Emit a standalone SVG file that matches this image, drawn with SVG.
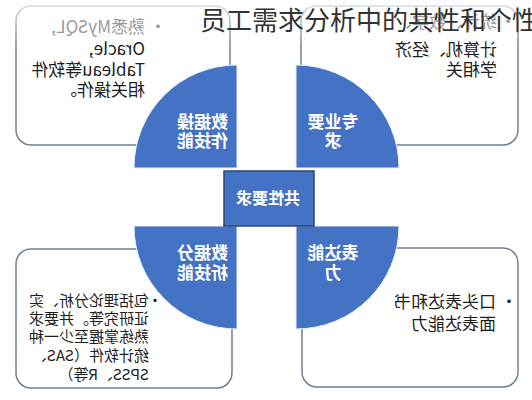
<svg xmlns="http://www.w3.org/2000/svg" width="532" height="400" viewBox="0 0 532 400">
<defs>
<linearGradient id="topfade" x1="0" y1="0" x2="0" y2="1">
<stop offset="0" stop-color="#d5dce4"/>
<stop offset="0.3" stop-color="#6f8096"/>
<stop offset="1" stop-color="#6f8096"/>
</linearGradient>
</defs>
<style>
.box{fill:#ffffff;stroke:#6f8096;stroke-width:1.5}
.boxtop{fill:#ffffff;stroke:url(#topfade);stroke-width:1.5}
.quad{fill:#4472c4;stroke:#e8eef8;stroke-width:1}
.core{fill:#4472c4;stroke:#2b4770;stroke-width:1.5}
.qt{font-family:"Noto Sans CJK SC","Liberation Sans",sans-serif;font-size:17px;font-weight:bold;fill:#ffffff;text-anchor:middle}
.ct{font-family:"Noto Sans CJK SC","Liberation Sans",sans-serif;font-size:16px;font-weight:bold;fill:#ffffff;text-anchor:middle}
.bt{font-family:"Noto Sans CJK SC","Liberation Sans",sans-serif;font-size:17px;fill:#1e1e1e}
.bs{font-family:"Noto Sans CJK SC","Liberation Sans",sans-serif;font-size:15px;fill:#1e1e1e}
.fade{fill:#9a9a9a}
.title{font-family:"Noto Sans CJK SC","Liberation Sans",sans-serif;font-size:26px;fill:#333333}
</style>
<rect width="532" height="400" fill="#ffffff"/>
<g id="box-data-ops">
<rect class="boxtop" x="16" y="6" width="214" height="139" rx="15"/>
<g transform="translate(532,0) scale(-1,1)">
<text class="bt fade" x="374" y="33" text-anchor="middle">•</text>
<text class="bt fade" x="387" y="33">熟悉MySQL,</text>
<text class="bt" x="387" y="55">Oracle,</text>
<text class="bt" x="387" y="76">Tableau等软件</text>
<text class="bt" x="387" y="96">相关操作。</text>
</g>
</g>
<g id="box-professional">
<rect class="boxtop" x="301" y="6" width="217" height="139" rx="15"/>
<g transform="translate(532,0) scale(-1,1)">
<text class="bt fade" x="24" y="28" text-anchor="middle">•</text>
<text class="bt fade" x="35" y="28">统计、数学、</text>
<text class="bt" x="35" y="56">计算机、经济</text>
<text class="bt" x="35" y="76">学相关</text>
</g>
</g>
<g id="box-data-analysis">
<rect class="box" x="16" y="249" width="216" height="139" rx="15"/>
<g transform="translate(532,0) scale(-1,1)">
<text class="bs" x="377" y="306" text-anchor="middle">•</text>
<text class="bs" x="383" y="306">包括理论分析、实</text>
<text class="bs" x="383" y="324">证研究等。并要求</text>
<text class="bs" x="383" y="342">熟练掌握至少一种</text>
<text class="bs" x="383" y="361">统计软件（SAS、</text>
<text class="bs" x="383" y="380">SPSS、R等）</text>
</g>
</g>
<g id="box-expression">
<rect class="box" x="302" y="248" width="216" height="139" rx="15"/>
<g transform="translate(532,0) scale(-1,1)">
<text class="bt" x="23" y="308" text-anchor="middle">•</text>
<text class="bt" x="36" y="308">口头表达和书</text>
<text class="bt" x="36" y="330">面表达能力</text>
</g>
</g>
<g id="quad-data-ops">
<path class="quad" d="M237,168 L134,168 A103,103 0 0 1 237,65 Z"/>
<g transform="translate(532,0) scale(-1,1)">
<text class="qt" x="329.5" y="128">数据操</text>
<text class="qt" x="329.5" y="147">作技能</text>
</g>
</g>
<g id="quad-professional">
<path class="quad" d="M296,168 L296,65 A103,103 0 0 1 399,168 Z"/>
<g transform="translate(532,0) scale(-1,1)">
<text class="qt" x="199" y="128">专业要</text>
<text class="qt" x="199" y="147">求</text>
</g>
</g>
<g id="quad-data-analysis">
<path class="quad" d="M237,226 L237,329 A103,103 0 0 1 134,226 Z"/>
<g transform="translate(532,0) scale(-1,1)">
<text class="qt" x="329.5" y="259">数据分</text>
<text class="qt" x="329.5" y="279">析技能</text>
</g>
</g>
<g id="quad-expression">
<path class="quad" d="M296,226 L399,226 A103,103 0 0 1 296,329 Z"/>
<g transform="translate(532,0) scale(-1,1)">
<text class="qt" x="199" y="259">表达能</text>
<text class="qt" x="199" y="279">力</text>
</g>
</g>
<g id="core">
<rect class="core" x="224" y="171" width="90" height="55"/>
<g transform="translate(532,0) scale(-1,1)">
<text class="ct" x="264" y="204">共性要求</text>
</g>
</g>
<g id="connectors"/>
<g id="title">
<text class="title" x="200" y="30">员工需求分析中的共性和个性</text>
</g>
</svg>
